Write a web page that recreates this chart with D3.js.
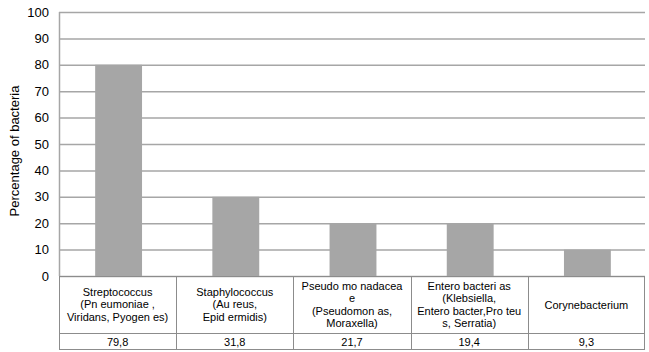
<!DOCTYPE html>
<html>
<head>
<meta charset="utf-8">
<script src="https://cdn.jsdelivr.net/npm/d3@7"></script>
<style>
  body { margin: 0; background: #fff; }
  text { font-family: "Liberation Sans", Arial, sans-serif; fill: #000; }
</style>
</head>
<body>
<div id="chart"></div>
<script>
var WD = 649, HT = 352
var margin = { left: 59, right: 4, top: 12, bottom: 76 }
var width = WD - margin.left - margin.right
var height = HT - margin.top - margin.bottom

// data
var categories = [
  ["Streptococcus", "(Pn eumoniae ,", "Viridans, Pyogen es)"],
  ["Staphylococcus", "(Au reus,", "Epid ermidis)"],
  ["Pseudo mo nadacea", "e", "(Pseudomon as,", "Moraxella)"],
  ["Entero bacteri as", "(Klebsiella,", "Entero bacter,Pro teu", "s, Serratia)"],
  ["Corynebacterium"]
]
var barValues = [80, 30, 20, 20, 10]
var tableValues = ["79,8", "31,8", "21,7", "19,4", "9,3"]
var yTicks = [0, 10, 20, 30, 40, 50, 60, 70, 80, 90, 100]

var svg = d3.select("#chart")
  .append("svg")
    .attr("width", WD)
    .attr("height", HT)

var g = svg.append("g")
  .attr("transform", "translate(" + margin.left + "," + margin.top + ")")

var x = d3.scaleBand()
  .domain(d3.range(categories.length))
  .range([0, width])
  .paddingInner(0.6)
  .paddingOuter(0.3)

var xCat = d3.scaleBand()
  .domain(d3.range(categories.length))
  .range([0, width])

var y = d3.scaleLinear().domain([0, 100]).range([height, 0])

// gridlines
g.selectAll(".grid")
  .data(yTicks)
  .enter().append("line")
    .attr("x1", 0).attr("x2", width)
    .attr("y1", function(d) { return y(d) + 0.5 })
    .attr("y2", function(d) { return y(d) + 0.5 })
    .attr("stroke", "#a6a6a6")
    .attr("stroke-width", 1.5)

// y axis
var yAxis = g.append("g")
  .call(d3.axisLeft(y).tickValues(yTicks).tickSize(0).tickPadding(10))
yAxis.select(".domain").remove()
yAxis.selectAll("text")
  .style("font-size", "13px")
  .style("font-family", "Liberation Sans, Arial, sans-serif")
  .attr("fill", "#000")

// bars
g.selectAll(".bar")
  .data(barValues)
  .enter().append("rect")
    .attr("x", function(d, i) { return x(i) + 1 })
    .attr("y", function(d) { return y(d) })
    .attr("width", x.bandwidth())
    .attr("height", function(d) { return height - y(d) })
    .attr("fill", "#a6a6a6")

// y axis line
g.append("line")
  .attr("x1", 0.5).attr("x2", 0.5)
  .attr("y1", 0).attr("y2", height)
  .attr("stroke", "#a6a6a6")
  .attr("stroke-width", 1.5)

// axis title
svg.append("text")
  .attr("transform", "translate(19,151) rotate(-90)")
  .attr("text-anchor", "middle")
  .style("font-size", "13px")
  .text("Percentage of bacteria")

// table
var row1 = 57, row2 = 16
var table = g.append("g").attr("transform", "translate(0," + height + ")")
var tline = "#8c8c8c"

table.append("rect")
  .attr("x", 0.5).attr("y", 0.5)
  .attr("width", width - 1).attr("height", row1 + row2)
  .attr("fill", "none").attr("stroke", tline)
table.append("line")
  .attr("x1", 0).attr("x2", width)
  .attr("y1", row1 + 0.5).attr("y2", row1 + 0.5)
  .attr("stroke", tline)
table.selectAll(".sep")
  .data(d3.range(1, categories.length))
  .enter().append("line")
    .attr("x1", function(i) { return Math.round(xCat(i)) + 0.5 })
    .attr("x2", function(i) { return Math.round(xCat(i)) + 0.5 })
    .attr("y1", 0).attr("y2", row1 + row2)
    .attr("stroke", tline)

var lh = 12.4
table.selectAll(".cat")
  .data(categories)
  .enter().append("text")
    .attr("text-anchor", "middle")
    .style("font-size", "11px")
    .attr("transform", function(d, i) {
      var cy = row1 / 2 - (d.length - 1) * lh / 2 + 4
      return "translate(" + (xCat(i) + xCat.bandwidth() / 2) + "," + cy + ")"
    })
    .selectAll("tspan")
    .data(function(d) { return d })
    .enter().append("tspan")
      .attr("x", 0)
      .attr("dy", function(d, j) { return j === 0 ? 0 : lh })
      .text(function(d) { return d })

table.selectAll(".val")
  .data(tableValues)
  .enter().append("text")
    .attr("x", function(d, i) { return xCat(i) + xCat.bandwidth() / 2 })
    .attr("y", row1 + row2 / 2 + 4.5)
    .attr("text-anchor", "middle")
    .style("font-size", "11px")
    .text(function(d) { return d })
</script>
</body>
</html>
